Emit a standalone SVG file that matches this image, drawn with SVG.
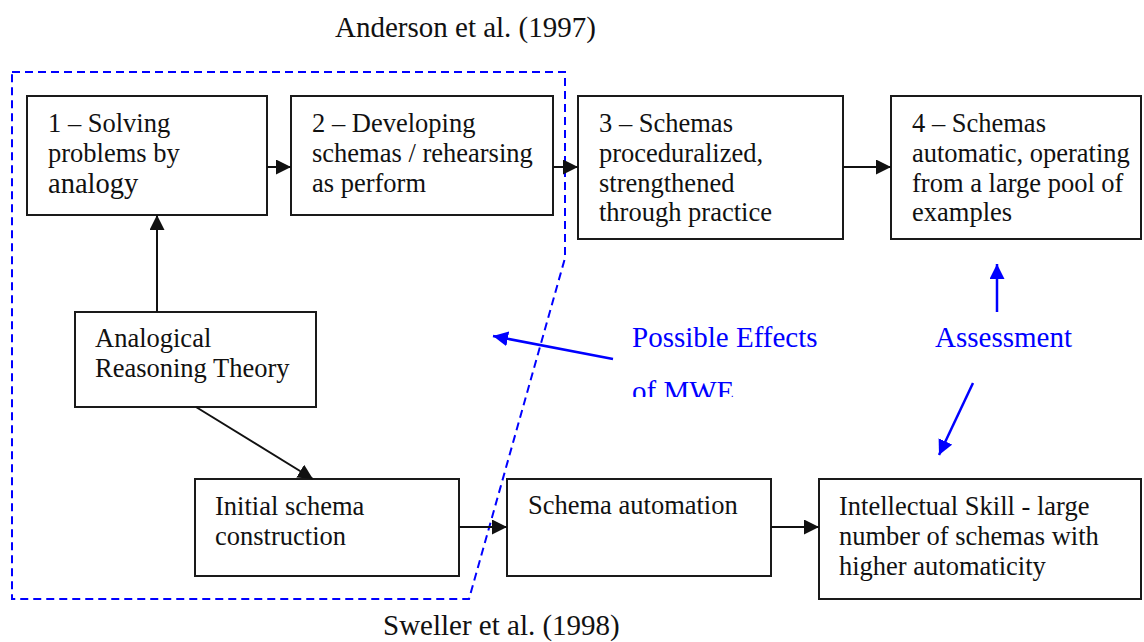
<svg xmlns="http://www.w3.org/2000/svg" width="1144" height="642" viewBox="0 0 1144 642">
<style>
.box{fill:#fff;stroke:#1a1a1a;stroke-width:2}
.t{font-family:"Liberation Serif","Times New Roman",serif;font-size:26.5px;fill:#111}
.big{font-size:28.5px}
.cap{font-family:"Liberation Serif","Times New Roman",serif;font-size:29px;fill:#111}
.blue{font-family:"Liberation Serif","Times New Roman",serif;font-size:29px;fill:#0000ff}
.c{stroke:#111;stroke-width:2;fill:none}
.cb{stroke:#0000ff;stroke-width:2.5;fill:none}
</style>
<defs>
<marker id="ah" markerUnits="userSpaceOnUse" markerWidth="16" markerHeight="16" refX="15" refY="7.5" orient="auto">
<path d="M0,0 L15,7.5 L0,15 z" fill="#111"/>
</marker>
<marker id="ahb" markerUnits="userSpaceOnUse" markerWidth="16" markerHeight="16" refX="15" refY="7.5" orient="auto">
<path d="M0,0 L15,7.5 L0,15 z" fill="#0000ff"/>
</marker>
<clipPath id="clipMWE"><rect x="600" y="300" width="300" height="97"/></clipPath>
</defs>
<rect width="1144" height="642" fill="#fff"/>

<text class="cap" x="335" y="37">Anderson et al. (1997)</text>
<text class="cap" x="383" y="635">Sweller et al. (1998)</text>

<path id="region" d="M12,72 L565,72 L565,258 L469,599 L12,599 Z" fill="none" stroke="#0000ff" stroke-width="2" stroke-dasharray="8,5"/>

<g id="n1">
<rect class="box" x="27" y="96" width="240" height="119"/>
<text class="t" x="48" y="132">1 – Solving</text>
<text class="t" x="48" y="162">problems by</text>
<text class="t big" x="48" y="193">analogy</text>
</g>
<g id="n2">
<rect class="box" x="291" y="96" width="262" height="119"/>
<text class="t" x="312" y="132">2 – Developing</text>
<text class="t" x="312" y="162">schemas / rehearsing</text>
<text class="t" x="312" y="192">as perform</text>
</g>
<g id="n3">
<rect class="box" x="578" y="96" width="265" height="143"/>
<text class="t" x="599" y="132">3 – Schemas</text>
<text class="t" x="599" y="162">proceduralized,</text>
<text class="t" x="599" y="192">strengthened</text>
<text class="t" x="599" y="221">through practice</text>
</g>
<g id="n4">
<rect class="box" x="891" y="96" width="250" height="143"/>
<text class="t" x="912" y="132">4 – Schemas</text>
<text class="t" x="912" y="162">automatic, operating</text>
<text class="t" x="912" y="192">from a large pool of</text>
<text class="t" x="912" y="221">examples</text>
</g>
<g id="n5">
<rect class="box" x="75" y="312" width="241" height="95"/>
<text class="t" x="95" y="347">Analogical</text>
<text class="t" x="95" y="377">Reasoning Theory</text>
</g>
<g id="n6">
<rect class="box" x="195" y="479" width="264" height="97"/>
<text class="t" x="215" y="515">Initial schema</text>
<text class="t" x="215" y="545">construction</text>
</g>
<g id="n7">
<rect class="box" x="507" y="479" width="264" height="97"/>
<text class="t" x="528" y="514">Schema automation</text>
</g>
<g id="n8">
<rect class="box" x="819" y="479" width="322" height="120"/>
<text class="t" x="839" y="515">Intellectual Skill - large</text>
<text class="t" x="839" y="545">number of schemas with</text>
<text class="t" x="839" y="575">higher automaticity</text>
</g>

<g id="labels">
<text class="blue" x="632" y="347">Possible Effects</text>
<text class="blue" x="632" y="401" clip-path="url(#clipMWE)">of MWE</text>
<text class="blue" x="935" y="347">Assessment</text>
</g>

<g id="connectors">
<line class="c" x1="267" y1="167" x2="291" y2="167" marker-end="url(#ah)"/>
<line class="c" x1="553" y1="167" x2="578" y2="167" marker-end="url(#ah)"/>
<line class="c" x1="843" y1="167" x2="891" y2="167" marker-end="url(#ah)"/>
<line class="c" x1="157" y1="312" x2="157" y2="215" marker-end="url(#ah)"/>
<line class="c" x1="196" y1="407" x2="313" y2="479" marker-end="url(#ah)"/>
<line class="c" x1="459" y1="527" x2="507" y2="527" marker-end="url(#ah)"/>
<line class="c" x1="771" y1="527" x2="819" y2="527" marker-end="url(#ah)"/>
<line class="cb" x1="613" y1="359" x2="493" y2="336" marker-end="url(#ahb)"/>
<line class="cb" x1="997" y1="312" x2="997" y2="264" marker-end="url(#ahb)"/>
<line class="cb" x1="973" y1="383" x2="939" y2="455" marker-end="url(#ahb)"/>
</g>
</svg>
